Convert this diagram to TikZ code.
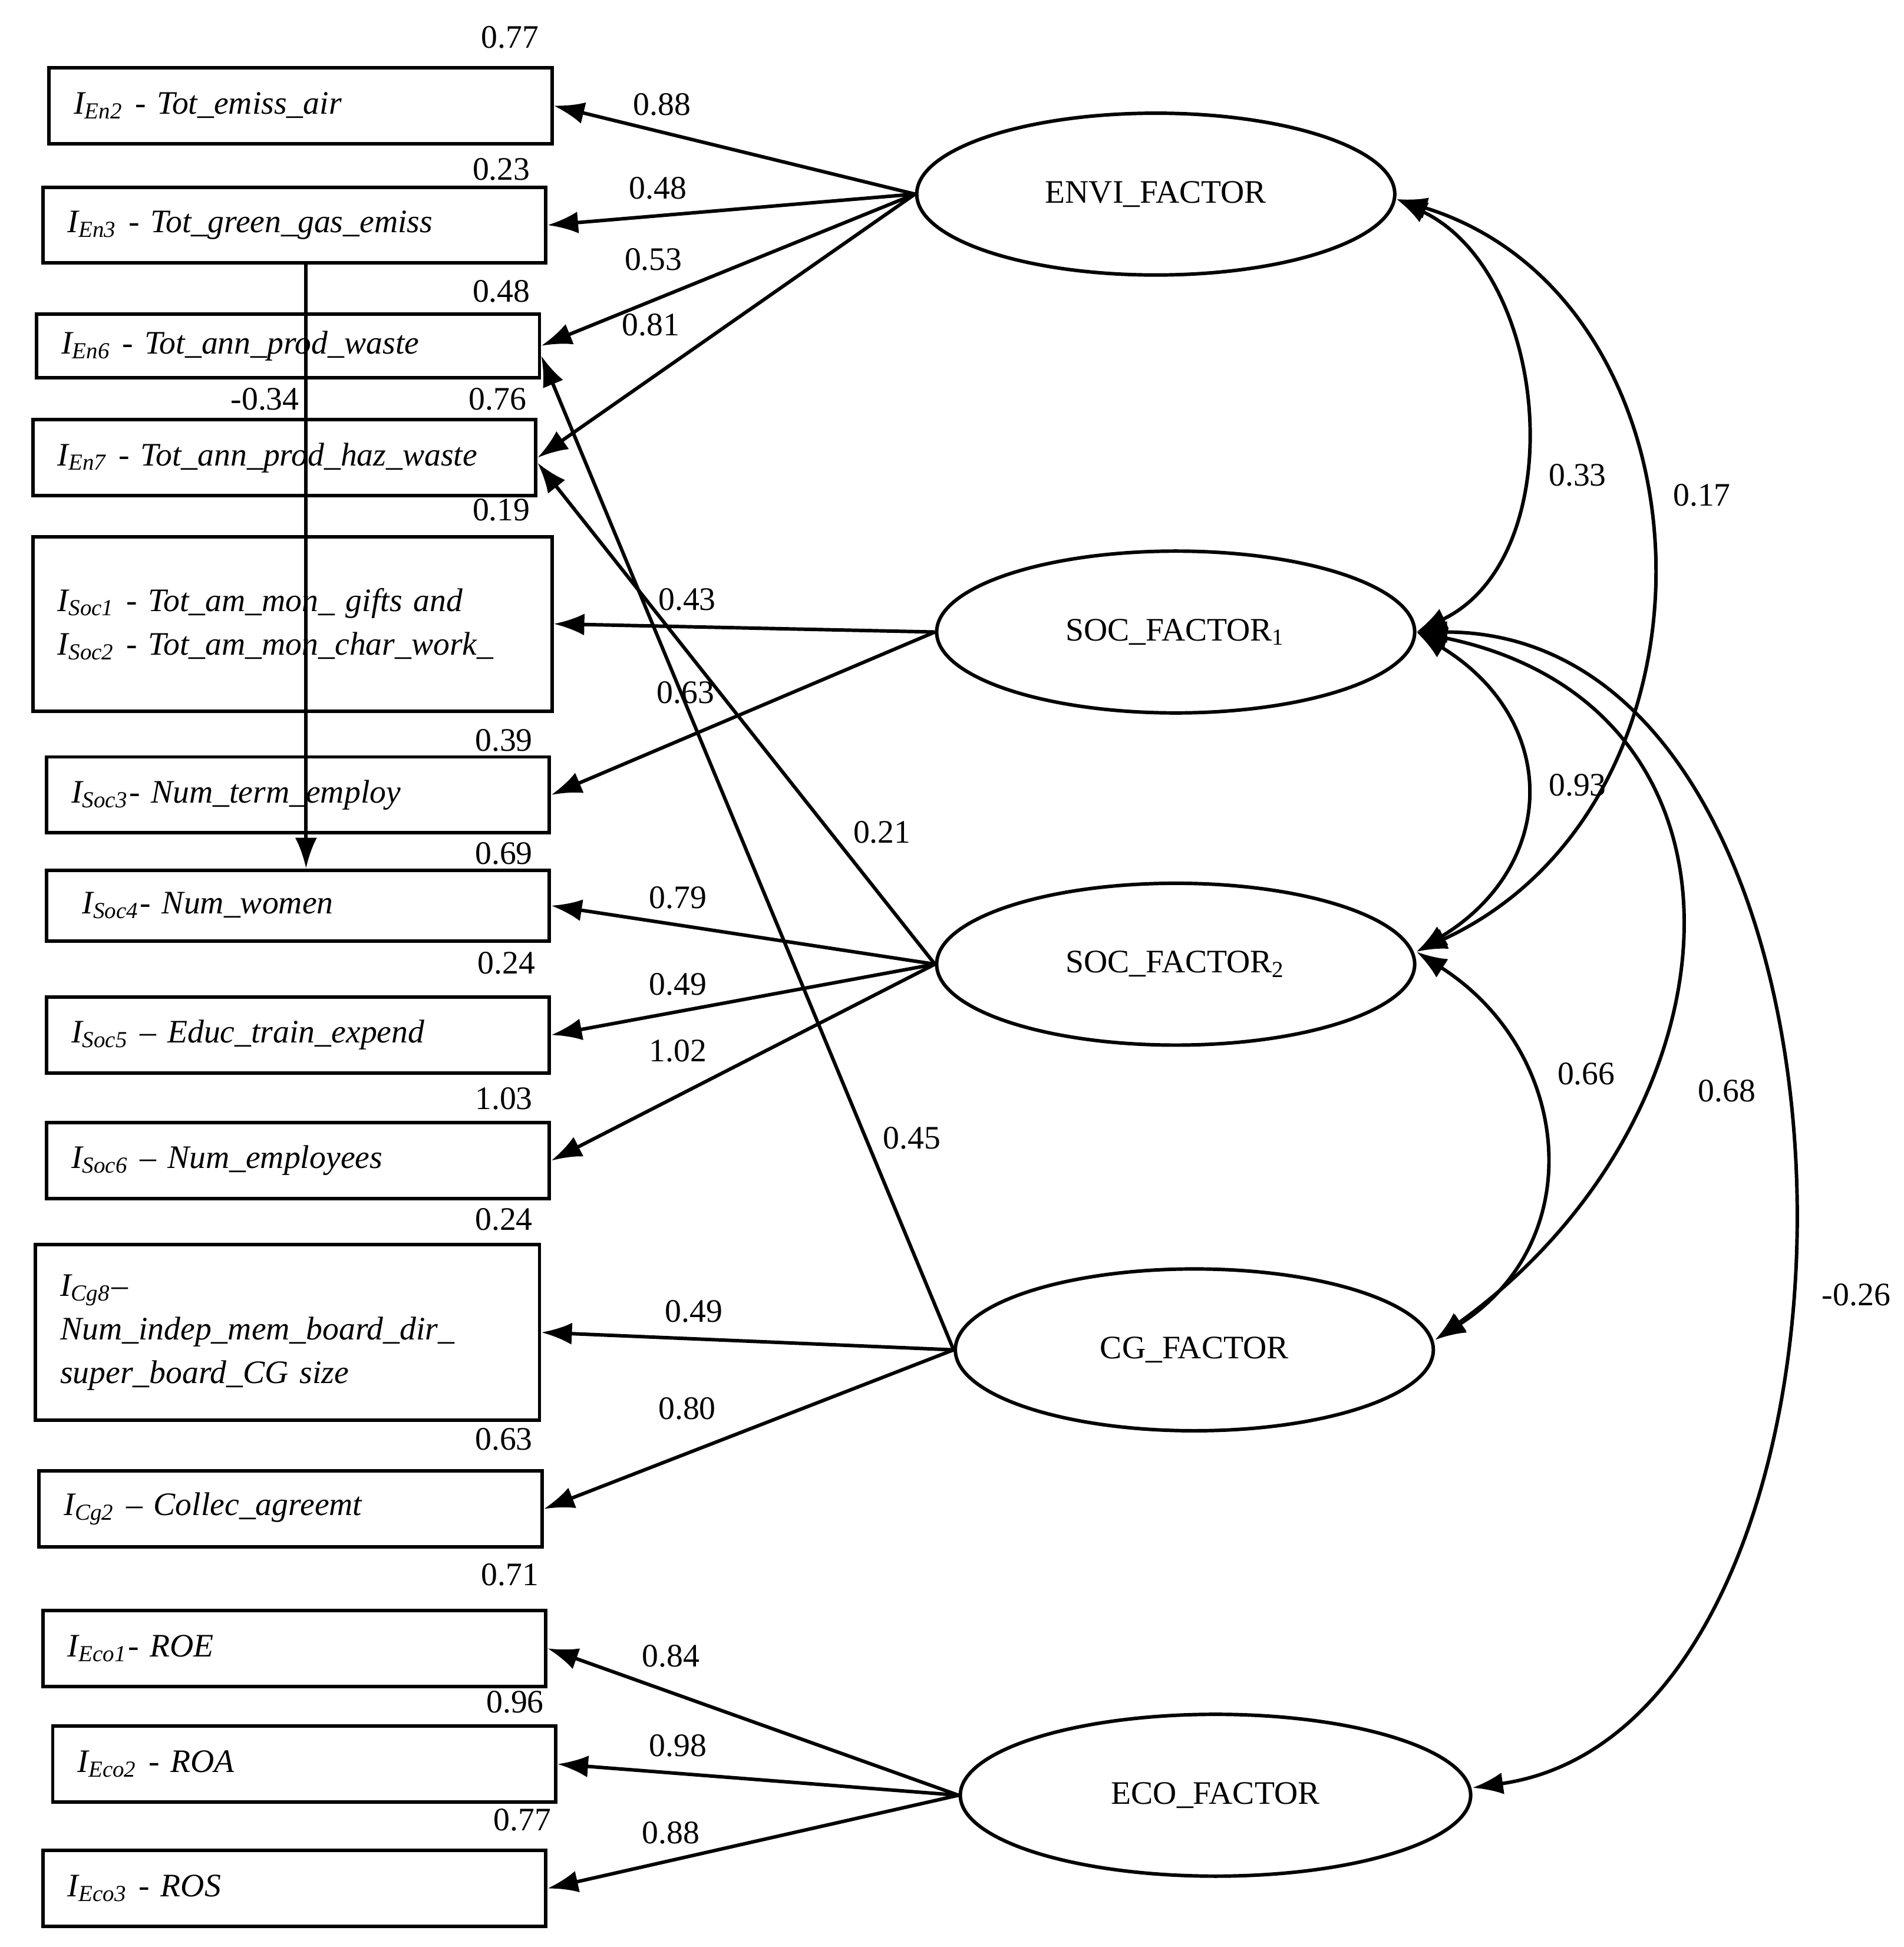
\documentclass[tikz,border=0pt]{standalone}
\usepackage{fontspec}
\setmainfont{Liberation Serif}
\usetikzlibrary{shapes.geometric,arrows.meta}
\tikzset{
  ind/.style={draw, line width=0.8pt, anchor=north west, align=left, inner xsep=0.2cm,
    text width=3.64cm, minimum height=0.61cm, font=\fontsize{7.5}{10}\selectfont\itshape},
  fac/.style={draw, ellipse, line width=0.8pt, minimum width=3.84cm, minimum height=1.3cm,
    font=\fontsize{7.5}{9}\selectfont},
  load/.style={-{Latex[length=7pt,width=5pt]}, line width=0.8pt},
  cov/.style={{Latex[length=7pt,width=5pt]}-{Latex[length=7pt,width=5pt]}, line width=0.8pt},
  num/.style={font=\fontsize{7.5}{9}\selectfont}
}
\newcommand{\Isub}[1]{I\textsubscript{#1}}
\begin{document}
\begin{tikzpicture}[x=0.01cm, y=-0.01cm]
\useasboundingbox (0,0) rectangle (1530,1565);
% indicators
\node[ind] (en2) at (38,53) {\Isub{En2} - Tot\_emiss\_air};
\node[ind] (en3) at (33,149) {\Isub{En3} - Tot\_green\_gas\_emiss};
\node[ind, minimum height=0.51cm] (en6) at (28,251) {\Isub{En6} - Tot\_ann\_prod\_waste};
\node[ind] (en7) at (25,336) {\Isub{En7} - Tot\_ann\_prod\_haz\_waste};
\node[ind, text width=3.77cm, minimum height=1.4cm] (soc12) at (25,430) {\Isub{Soc1} - Tot\_am\_mon\_ gifts and\\ \Isub{Soc2} - Tot\_am\_mon\_char\_work\_};
\node[ind] (soc3) at (36,607) {\Isub{Soc3}- Num\_term\_employ};
\node[ind, minimum height=0.57cm] (soc4) at (36,698) {\ \Isub{Soc4}- Num\_women};
\node[ind] (soc5) at (36,800) {\Isub{Soc5} -- Educ\_train\_expend};
\node[ind] (soc6) at (36,901) {\Isub{Soc6} -- Num\_employees};
\node[ind, minimum height=1.41cm, text width=3.65cm] (cg8) at (27,999) {\Isub{Cg8}--\\Num\_indep\_mem\_board\_dir\_\\super\_board\_CG size};
\node[ind] (cg2) at (30,1181) {\Isub{Cg2} -- Collec\_agreemt};
\node[ind] (eco1) at (33,1293) {\Isub{Eco1}- ROE};
\node[ind] (eco2) at (41,1386) {\Isub{Eco2} - ROA};
\node[ind] (eco3) at (33,1486) {\Isub{Eco3} - ROS};
% error variances
\node[num] at (410,30) {0.77};
\node[num] at (403,136) {0.23};
\node[num] at (403,234) {0.48};
\node[num] at (400,321) {0.76};
\node[num] at (213,321) {-0.34};
\node[num] at (403,410) {0.19};
\node[num] at (405,595) {0.39};
\node[num] at (405,686) {0.69};
\node[num] at (407,774) {0.24};
\node[num] at (405,883) {1.03};
\node[num] at (405,980) {0.24};
\node[num] at (405,1157) {0.63};
\node[num] at (410,1266) {0.71};
\node[num] at (414,1368) {0.96};
\node[num] at (420,1463) {0.77};
% factors
\node[fac] (envi) at (929,156) {ENVI\_FACTOR};
\node[fac] (soc1) at (945,508) {SOC\_FACTOR\textsubscript{1}};
\node[fac] (soc2) at (945,775) {SOC\_FACTOR\textsubscript{2}};
\node[fac] (cg) at (960,1085) {CG\_FACTOR};
\node[fac, minimum width=4.1cm] (eco) at (977,1443) {ECO\_FACTOR};
% loadings
\draw[load] (envi.west) -- (en2.east) node[num, pos=0.7, above] {0.88};
\draw[load] (envi.west) -- (en3.east) node[num, pos=0.7, above] {0.48};
\draw[load] (envi.west) -- (en6.east) node[num, pos=0.7, above=3pt] {0.53};
\draw[load] (envi.west) -- (en7.east) node[num, pos=0.7, above=6pt] {0.81};
\draw[load] (soc1.west) -- (soc12.east) node[num, pos=0.65, above] {0.43};
\draw[load] (soc1.west) -- (soc3.east) node[num, pos=0.65, above=4pt] {0.63};
\draw[load] (soc2.west) -- (soc4.east) node[num, pos=0.67, above] {0.79};
\draw[load] (soc2.west) -- (soc5.east) node[num, pos=0.67, above] {0.49};
\draw[load] (soc2.west) -- (soc6.east) node[num, pos=0.67, above=4pt] {1.02};
\draw[load] (soc2.west) -- ([yshift=-0.04cm]en7.east);
\draw[load] (cg.west) -- (cg8.east) node[num, pos=0.63, above] {0.49};
\draw[load] (cg.west) -- (cg2.east) node[num, pos=0.65, above=4pt] {0.80};
\draw[load] (cg.west) -- ([yshift=-0.08cm]en6.east);
\draw[load] (eco.west) -- (eco1.east) node[num, pos=0.7, above=2pt] {0.84};
\draw[load] (eco.west) -- (eco2.east) node[num, pos=0.7, above] {0.98};
\draw[load] (eco.west) -- (eco3.east) node[num, pos=0.7, above] {0.88};
\draw[load] (en3.south -| 246,0) -- (soc4.north -| 246,0);
\node[num] at (709,669) {0.21};
\node[num] at (733,915) {0.45};
% covariances
\draw[cov] ([yshift=-0.04cm]envi.east) .. controls +(125,60) and +(125,-60) .. (soc1.east);
\draw[cov] ([yshift=-0.04cm]envi.east) .. controls +(260,80) and +(260,-120) .. ([yshift=0.1cm]soc2.east);
\draw[cov] (soc1.east) .. controls +(115,70) and +(115,-70) .. ([yshift=0.1cm]soc2.east);
\draw[cov] ([yshift=0.1cm]soc2.east) .. controls +(125,80) and +(125,-80) .. ([yshift=0.08cm]cg.east);
\draw[cov] (soc1.east) .. controls +(290,60) and +(250,-180) .. ([yshift=0.08cm]cg.east);
\draw[cov] (soc1.east) .. controls +(390,0) and +(350,-50) .. ([yshift=0.06cm]eco.east);
\node[num] at (1268,382) {0.33};
\node[num] at (1368,398) {0.17};
\node[num] at (1268,631) {0.93};
\node[num] at (1275,863) {0.66};
\node[num] at (1388,877) {0.68};
\node[num] at (1492,1041) {-0.26};
\end{tikzpicture}
\end{document}
